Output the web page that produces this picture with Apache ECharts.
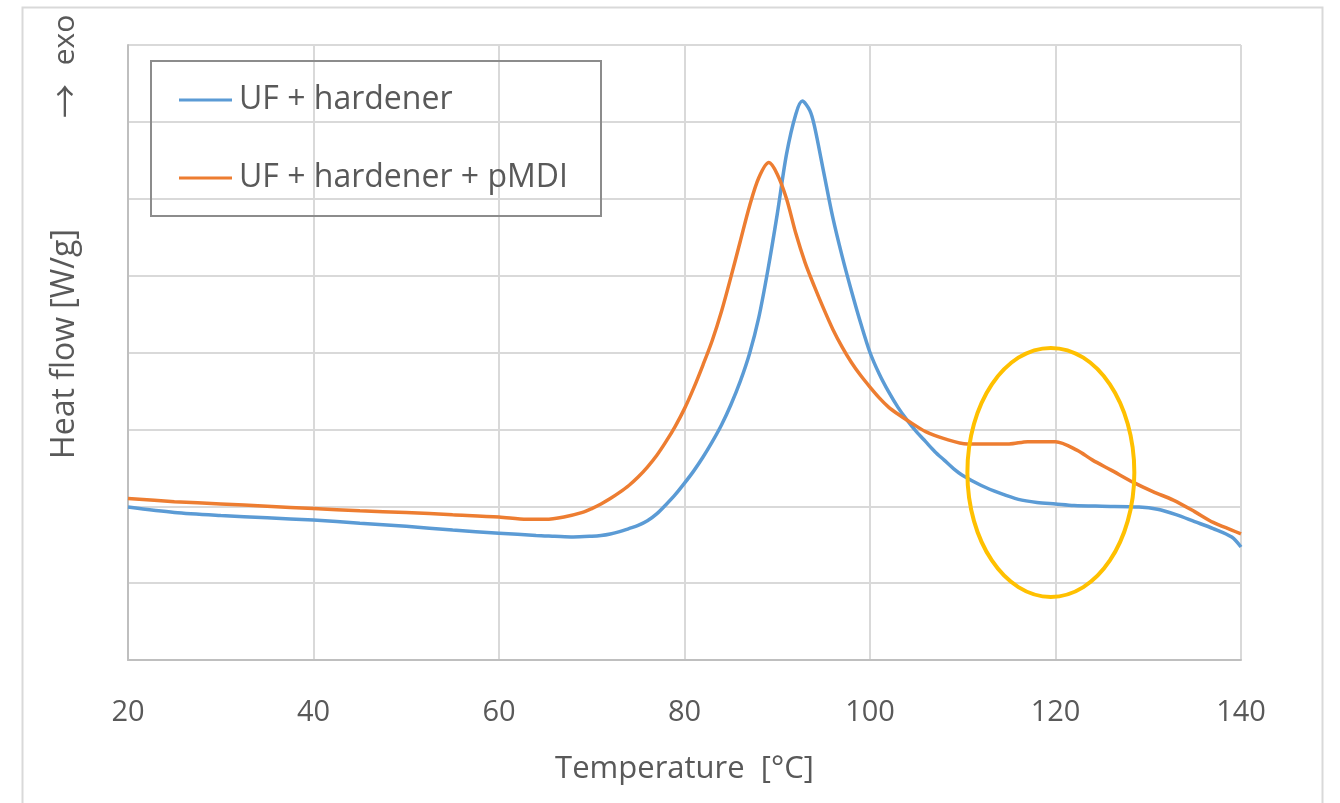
<!DOCTYPE html>
<html>
<head>
<meta charset="utf-8">
<script src="https://cdn.jsdelivr.net/npm/echarts@6/dist/echarts.min.js"></script>
<style>
  html, body { margin: 0; padding: 0; background: #fff; }
  #main { width: 1340px; height: 803px; }
</style>
</head>
<body>
<div id="main"></div>
<script>
// temperature [°C] and heat flow (arbitrary units, 8 grid steps)
var hardenerTemp = [20, 25, 30, 35, 40, 45, 50, 55, 60, 64, 66, 68, 70, 71, 72, 73, 74, 75, 76, 77, 78, 79, 80, 81, 82, 83, 84, 85, 86, 87, 88, 89, 90, 91, 92, 92.7, 93.5, 94, 95, 96, 97, 98, 99, 100, 101, 102, 103, 104, 105, 106, 107, 108, 109, 110, 112, 114, 116, 118, 120, 122, 125, 129, 131, 133, 135, 137, 139, 140];
var hardenerHeat = [1.99, 1.92, 1.88, 1.85, 1.82, 1.78, 1.74, 1.69, 1.65, 1.62, 1.61, 1.60, 1.61, 1.62, 1.64, 1.67, 1.71, 1.75, 1.81, 1.90, 2.02, 2.15, 2.30, 2.46, 2.64, 2.84, 3.06, 3.32, 3.62, 3.98, 4.45, 5.08, 5.80, 6.58, 7.10, 7.27, 7.15, 6.95, 6.35, 5.75, 5.25, 4.80, 4.38, 4.00, 3.72, 3.49, 3.29, 3.12, 2.97, 2.84, 2.71, 2.60, 2.49, 2.40, 2.27, 2.17, 2.09, 2.05, 2.03, 2.01, 2.00, 1.99, 1.96, 1.89, 1.80, 1.71, 1.60, 1.47];

var pmdiTemp = [20, 25, 30, 35, 40, 45, 50, 55, 60, 63, 65, 67, 69, 70, 71, 72, 73, 74, 75, 76, 77, 78, 79, 80, 81, 82, 83, 84, 85, 86, 87, 88, 89.1, 90, 91, 92, 93, 94, 95, 96, 97, 98, 99, 100, 101, 102, 103, 104, 106, 108, 110.5, 115, 117, 120, 122.3, 124, 126, 128.4, 130.5, 132.7, 135, 137, 139, 140];
var pmdiHeat = [2.10, 2.06, 2.03, 2.00, 1.97, 1.94, 1.92, 1.89, 1.86, 1.83, 1.83, 1.86, 1.92, 1.97, 2.03, 2.10, 2.18, 2.27, 2.38, 2.51, 2.66, 2.84, 3.04, 3.27, 3.54, 3.84, 4.16, 4.54, 4.98, 5.44, 5.90, 6.27, 6.47, 6.32, 6.00, 5.55, 5.17, 4.86, 4.57, 4.30, 4.07, 3.87, 3.70, 3.55, 3.41, 3.29, 3.20, 3.12, 2.97, 2.88, 2.81, 2.81, 2.84, 2.84, 2.73, 2.60, 2.47, 2.31, 2.19, 2.08, 1.93, 1.79, 1.69, 1.64];

var seriesNames = ['UF + hardener', 'UF + hardener + pMDI'];
var xTicks = [20, 40, 60, 80, 100, 120, 140];

// highlighted shoulder (centre temp, centre heat, half width, half height)
var markCentre = [119.5, 2.44];
var markHalf = [9, 1.62];

function pairs(xs, ys) {
    return xs.map(function (x, i) { return [x, ys[i]]; });
}

var textColor = '#595959';
var fontFam = '"Open Sans", "Noto Sans", sans-serif';

var myChart = echarts.init(document.getElementById('main'));

var option = {
    animation: false,
    backgroundColor: '#fff',
    textStyle: { fontFamily: fontFam },
    grid: { left: 128, right: 99, top: 45, bottom: 143, containLabel: false },
    legend: {
        orient: 'vertical',
        left: 150,
        top: 60,
        padding: [20, 10, 18, 29],
        itemGap: 38,
        itemWidth: 53,
        itemHeight: 3,
        icon: 'rect',
        textStyle: { color: textColor, fontSize: 32, fontFamily: fontFam, lineHeight: 40, padding: [0, 0, 0, 2] },
        data: seriesNames
    },
    xAxis: {
        type: 'value',
        min: xTicks[0],
        max: xTicks[xTicks.length - 1],
        interval: 20,
        name: 'Temperature  [°C]',
        nameLocation: 'middle',
        nameGap: 94,
        nameTextStyle: { color: textColor, fontSize: 31, fontFamily: fontFam },
        axisLine: { show: true, lineStyle: { color: '#bfbfbf', width: 2 } },
        axisTick: { show: false },
        axisLabel: { color: textColor, fontSize: 29, margin: 38, fontFamily: fontFam },
        splitLine: { show: true, lineStyle: { color: '#d9d9d9', width: 2 } }
    },
    yAxis: {
        type: 'value',
        min: 0,
        max: 8,
        interval: 1,
        axisLine: { show: true, lineStyle: { color: '#bfbfbf', width: 2 } },
        axisTick: { show: false },
        axisLabel: { show: false },
        splitLine: { show: true, lineStyle: { color: '#d9d9d9', width: 2 } }
    },
    series: [{
        name: seriesNames[0],
        type: 'line',
        symbol: 'none',
        smooth: 0.3,
        color: '#5b9bd5',
        lineStyle: { color: '#5b9bd5', width: 3.5 },
        data: pairs(hardenerTemp, hardenerHeat),
        z: 3
    }, {
        name: seriesNames[1],
        type: 'line',
        symbol: 'none',
        smooth: 0.3,
        color: '#ed7d31',
        lineStyle: { color: '#ed7d31', width: 3.5 },
        data: pairs(pmdiTemp, pmdiHeat),
        z: 4
    }]
};
myChart.setOption(option);

// annotations placed from data coordinates
var c = myChart.convertToPixel({ gridIndex: 0 }, markCentre);
var edge = myChart.convertToPixel({ gridIndex: 0 }, [markCentre[0] + markHalf[0], markCentre[1] + markHalf[1]]);

myChart.setOption({
    graphic: [
        {   // outer chart border
            type: 'rect', left: 20, top: 5, z: 0, silent: true,
            shape: { x: 0, y: 0, width: 1300, height: 820 },
            style: { fill: 'none', stroke: '#d9d9d9', lineWidth: 2 }
        },
        {   // legend frame
            type: 'rect', z: 90, silent: true,
            shape: { x: 151, y: 61, width: 450, height: 155 },
            style: { fill: 'none', stroke: '#8c8c8c', lineWidth: 2 }
        },
        {
            type: 'text', x: 65, y: 344, rotation: Math.PI / 2, silent: true,
            style: { text: 'Heat flow [W/g]', fill: textColor, font: '32px ' + fontFam, textAlign: 'center', textVerticalAlign: 'middle' }
        },
        {
            type: 'text', x: 65, y: 101, rotation: Math.PI / 2, silent: true,
            style: { text: '\u2192', fill: textColor, font: '34px "Noto Sans CJK SC", "DejaVu Sans", sans-serif', textAlign: 'center', textVerticalAlign: 'middle' }
        },
        {
            type: 'text', x: 65, y: 40, rotation: Math.PI / 2, silent: true,
            style: { text: 'exo', fill: textColor, font: '30px ' + fontFam, textAlign: 'center', textVerticalAlign: 'middle' }
        },
        {
            type: 'ellipse', z: 100, silent: true,
            shape: { cx: c[0], cy: c[1], rx: Math.abs(edge[0] - c[0]), ry: Math.abs(c[1] - edge[1]) },
            style: { fill: 'none', stroke: '#ffc000', lineWidth: 4 }
        }
    ]
});
</script>
</body>
</html>
